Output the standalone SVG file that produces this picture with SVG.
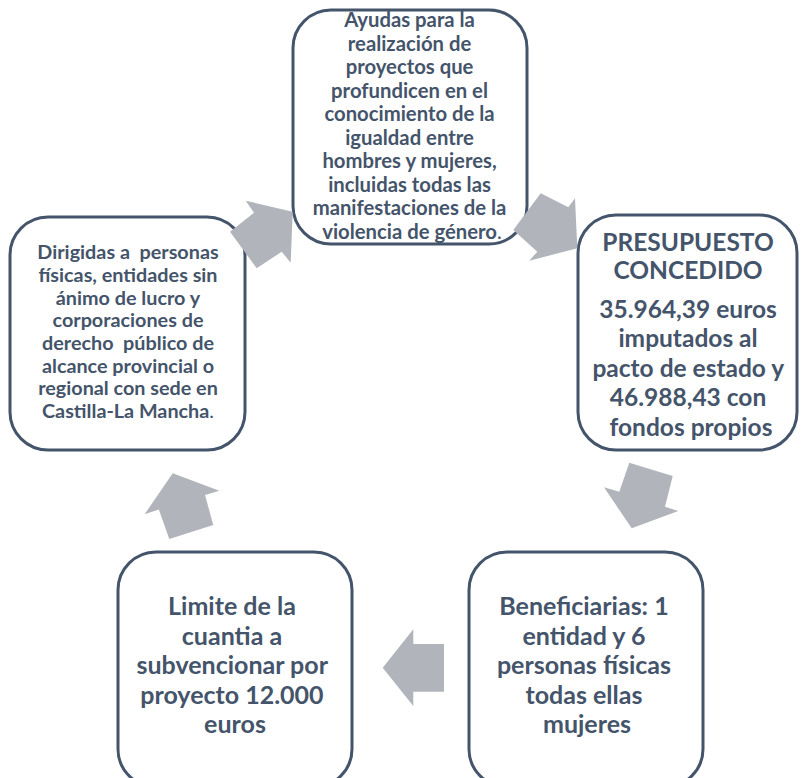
<svg xmlns="http://www.w3.org/2000/svg" width="801" height="778" viewBox="0 0 801 778">
<style>
.box{fill:#ffffff;stroke:#44546a;stroke-width:3}
.t{font-family:Lato,"Open Sans","Liberation Sans",sans-serif;font-weight:700;fill:#44546a;text-anchor:middle}
.s{font-size:20.3px}
.m{font-size:19.8px}
.l{font-size:24.5px}
.b{font-size:25px}
.n{font-weight:400}
.arr{fill:#b1b4ba}
</style>
<rect width="801" height="778" fill="#ffffff"/>
<g id="node-top">
<rect class="box" x="293" y="10" width="234" height="234" rx="38"/>
<text class="t s">
<tspan x="412" y="27">Ayudas para la</tspan>
<tspan x="412" y="50.5">realización de</tspan>
<tspan x="412" y="74">proyectos que</tspan>
<tspan x="412" y="97.5">profundicen en el</tspan>
<tspan x="412" y="121">conocimiento de la</tspan>
<tspan x="412" y="144.5">igualdad entre</tspan>
<tspan x="412" y="168">hombres y mujeres,</tspan>
<tspan x="412" y="191.5">incluidas todas las</tspan>
<tspan x="412" y="215">manifestaciones de la</tspan>
<tspan x="412" y="238.5">violencia de género<tspan class="n">.</tspan></tspan>
</text>
</g>
<g id="node-right">
<rect class="box" x="578" y="215" width="219" height="235" rx="38"/>
<text class="t l">
<tspan x="691" y="251">PRESUPUESTO</tspan>
<tspan x="691" y="279">CONCEDIDO</tspan>
<tspan x="691" y="318">35.964,39 euros</tspan>
<tspan x="691" y="347">imputados al</tspan>
<tspan x="691" y="377">pacto de estado y</tspan>
<tspan x="691" y="406">46.988,43 con</tspan>
<tspan x="691" y="436">fondos propios</tspan>
</text>
</g>
<g id="node-left">
<rect class="box" x="10" y="217" width="235" height="233" rx="38"/>
<text class="t m" xml:space="preserve"><tspan x="128" y="259">Dirigidas a  personas</tspan><tspan x="128" y="282">físicas, entidades sin</tspan><tspan x="128" y="304.5">ánimo de lucro y</tspan><tspan x="128" y="327">corporaciones de</tspan><tspan x="128" y="350">derecho  público de</tspan><tspan x="128" y="372.5">alcance provincial o</tspan><tspan x="128" y="395">regional con sede en</tspan><tspan x="128" y="418">Castilla-La Mancha<tspan class="n">.</tspan></tspan></text>
</g>
<g id="node-bottom-right">
<rect class="box" x="469" y="552" width="234" height="235" rx="38"/>
<text class="t b">
<tspan x="587" y="615">Beneficiarias: 1</tspan>
<tspan x="587" y="645">entidad y 6</tspan>
<tspan x="587" y="674">personas físicas</tspan>
<tspan x="587" y="704">todas ellas</tspan>
<tspan x="587" y="733">mujeres</tspan>
</text>
</g>
<g id="node-bottom-left">
<rect class="box" x="118" y="552" width="234" height="235" rx="38"/>
<text class="t b">
<tspan x="235" y="615">Limite de la</tspan>
<tspan x="235" y="645">cuantia a</tspan>
<tspan x="235" y="674">subvencionar por</tspan>
<tspan x="235" y="704">proyecto 12.000</tspan>
<tspan x="235" y="733">euros</tspan>
</text>
</g>
<g id="connectors">
<polygon class="arr" points="245.7,200.7 254,212.7 230,231.7 256.7,268.3 281.7,251.7 290.7,262.7 292.7,211.7"/>
<polygon class="arr" points="540.7,193.3 568.3,207.3 575,198.3 577.3,248.3 529.3,260.7 537.3,251.7 513.3,230"/>
<polygon class="arr" points="629.3,462.7 672.7,476 665,506.7 678.3,511 631.7,528.3 604,487.3 619.3,491.7"/>
<polygon class="arr" points="444,644 444,691.7 413.3,691.7 413.3,706 382.7,667.7 413.3,629.3 413.3,644"/>
<polygon class="arr" points="172.7,473.3 219.3,490.7 205,495 213.3,525 169.3,539 158.8,509.6 144.6,514.3"/>
</g>
</svg>
